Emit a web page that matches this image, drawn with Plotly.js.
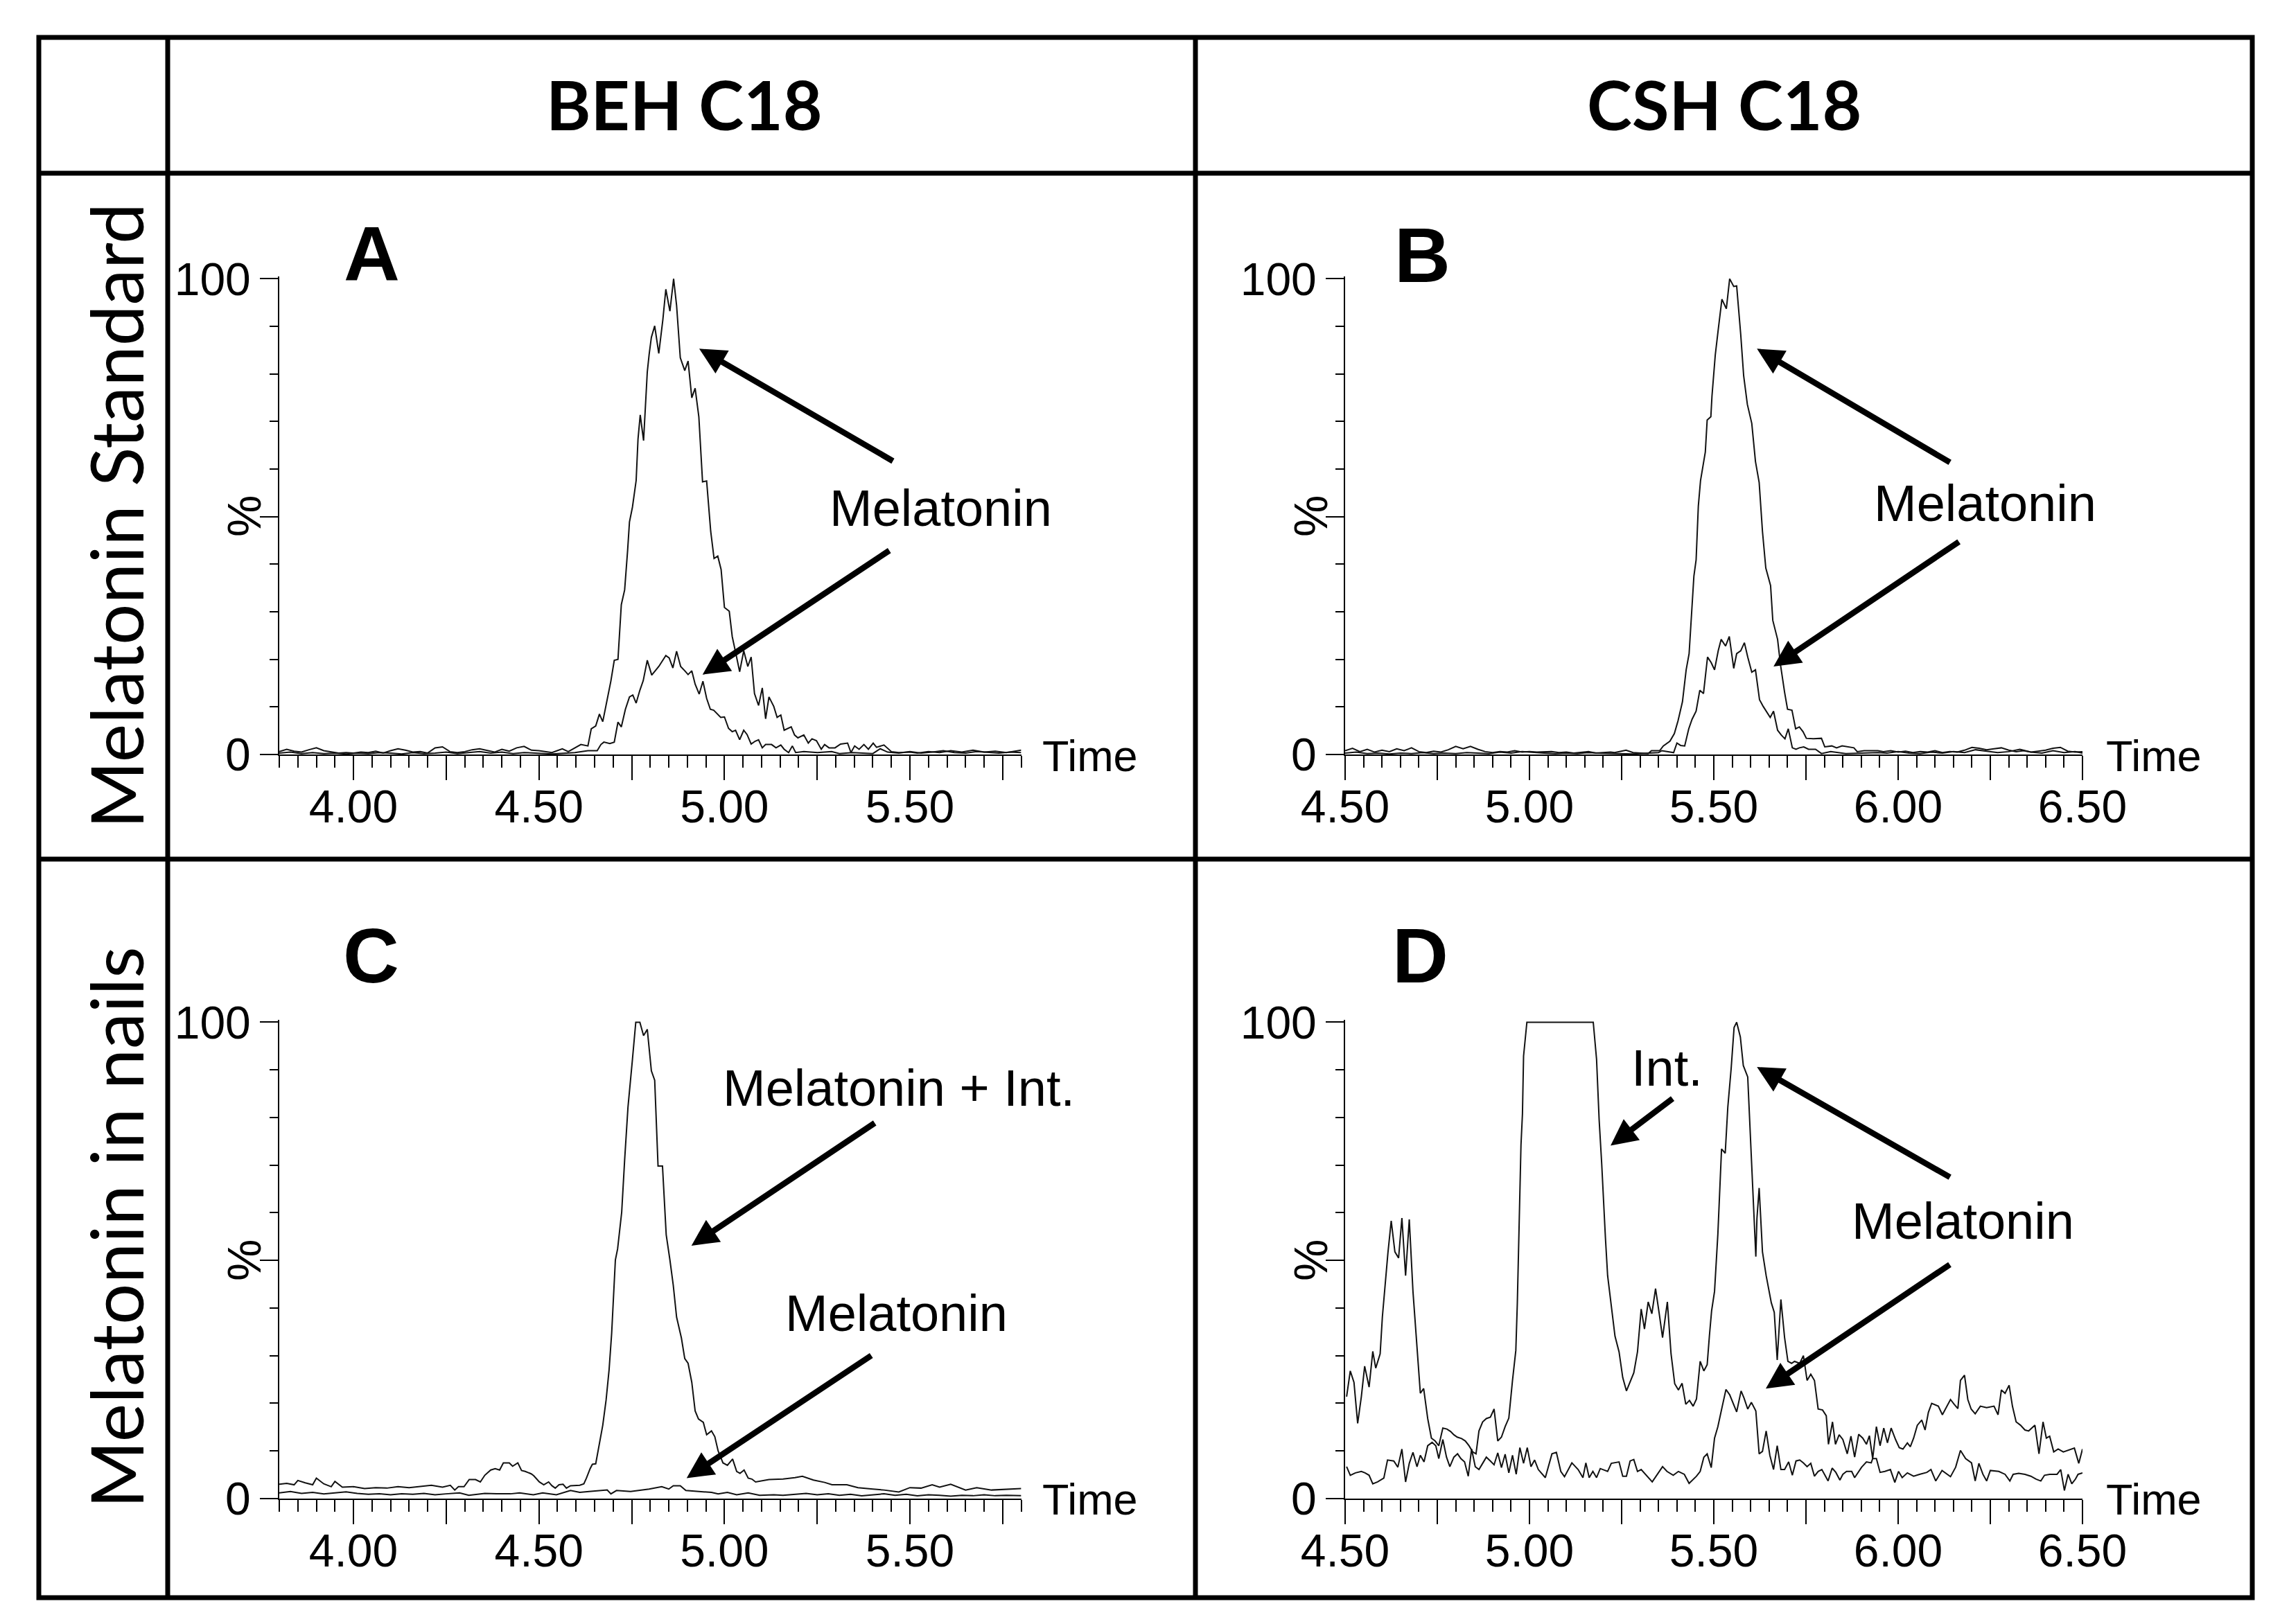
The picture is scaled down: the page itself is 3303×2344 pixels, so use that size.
<!DOCTYPE html>
<html><head><meta charset="utf-8">
<script src="https://cdn.plot.ly/plotly-3.0.1.min.js"></script>
<style>html,body{margin:0;padding:0;background:#fff;}#chart{width:3303px;height:2344px;}</style>
</head><body><div id="chart"></div>
<script>
// ===== DATA (retention time [min], relative intensity [%]) =====
const A_upper = [[3.80,0.6],[3.82,1.1],[3.84,0.7],[3.86,0.5],[3.88,1.0],[3.90,1.4],[3.92,0.8],[3.94,0.6],[3.96,0.3],[3.98,0.4],[4.00,0.3],[4.02,0.5],[4.04,0.4],[4.06,0.7],[4.08,0.3],[4.10,0.8],[4.12,1.2],[4.14,0.9],[4.16,0.5],[4.18,0.6],[4.20,0.3],[4.22,1.4],[4.24,1.6],[4.26,0.6],[4.28,0.4],[4.30,0.6],[4.32,1.0],[4.34,1.2],[4.36,0.8],[4.38,0.5],[4.40,1.1],[4.42,0.7],[4.44,1.4],[4.46,1.7],[4.48,0.9],[4.50,0.8],[4.535,0.4],[4.563,1.2],[4.579,0.6],[4.597,1.4],[4.613,2.1],[4.632,1.8],[4.641,5.4],[4.653,6.0],[4.663,8.5],[4.672,6.9],[4.694,15.5],[4.703,19.8],[4.713,20.0],[4.722,31.5],[4.731,34.6],[4.739,42.9],[4.744,48.9],[4.752,52.0],[4.762,57.6],[4.767,66.3],[4.773,71.4],[4.782,66.0],[4.792,80.4],[4.797,84.1],[4.803,87.7],[4.812,90.1],[4.823,84.3],[4.834,91.4],[4.842,97.8],[4.853,93.2],[4.863,100],[4.871,94.4],[4.881,83.4],[4.893,80.7],[4.902,82.7],[4.912,75.0],[4.921,77.0],[4.931,71.0],[4.941,57.3],[4.952,57.5],[4.963,46.9],[4.972,41.2],[4.982,41.7],[4.991,38.9],[5.000,30.9],[5.013,30.1],[5.021,24.8],[5.030,21.5],[5.041,17.4],[5.052,21.8],[5.063,18.5],[5.072,20.5],[5.081,12.8],[5.092,10.3],[5.102,14.0],[5.111,7.5],[5.120,12.1],[5.133,10.1],[5.142,7.8],[5.152,8.3],[5.161,5.1],[5.180,5.8],[5.189,4.1],[5.198,3.5],[5.214,4.1],[5.226,2.4],[5.236,3.3],[5.248,2.9],[5.261,1.1],[5.270,2.1],[5.282,1.4],[5.298,1.4],[5.313,2.2],[5.332,2.4],[5.341,0.4],[5.351,1.8],[5.363,1.1],[5.376,2.1],[5.388,1.1],[5.401,2.4],[5.41,1.5],[5.43,2.0],[5.45,0.6],[5.47,0.4],[5.50,0.5],[5.52,0.3],[5.55,0.6],[5.58,0.4],[5.61,0.8],[5.64,0.5],[5.67,0.9],[5.70,0.5],[5.73,0.7],[5.76,0.4],[5.78,0.6],[5.80,0.9]];
const A_lower = [[3.80,0.3],[3.83,0.5],[3.86,0.2],[3.89,0.4],[3.92,0.2],[3.95,0.3],[3.98,0.1],[4.01,0.3],[4.04,0.2],[4.07,0.4],[4.10,0.3],[4.13,0.1],[4.16,0.4],[4.19,0.2],[4.22,0.3],[4.25,0.5],[4.28,0.2],[4.31,0.4],[4.34,0.6],[4.37,0.3],[4.40,0.5],[4.43,0.2],[4.46,0.4],[4.49,0.3],[4.535,0.1],[4.597,0.4],[4.632,0.8],[4.657,0.8],[4.667,2.1],[4.675,2.6],[4.691,2.3],[4.703,2.6],[4.713,6.8],[4.722,5.8],[4.733,9.5],[4.744,12.1],[4.753,12.5],[4.762,10.8],[4.772,13.5],[4.781,15.5],[4.792,19.8],[4.804,16.7],[4.823,18.5],[4.832,19.6],[4.842,20.8],[4.851,20.3],[4.861,18.2],[4.871,21.7],[4.882,18.5],[4.893,17.6],[4.902,16.8],[4.912,17.6],[4.921,14.8],[4.932,12.7],[4.942,15.4],[4.952,11.8],[4.962,9.5],[4.971,9.3],[4.990,7.8],[5.000,7.9],[5.011,5.5],[5.021,4.8],[5.030,5.1],[5.041,3.1],[5.052,5.1],[5.061,4.2],[5.072,2.2],[5.083,2.8],[5.092,3.1],[5.102,1.4],[5.111,2.1],[5.127,2.1],[5.139,1.4],[5.152,2.0],[5.161,1.1],[5.173,0.4],[5.183,1.8],[5.192,0.4],[5.214,0.6],[5.251,0.4],[5.289,0.6],[5.31,0.2],[5.345,0.4],[5.40,0.2],[5.42,1.2],[5.44,0.5],[5.47,0.3],[5.50,0.6],[5.53,0.3],[5.56,0.5],[5.59,0.8],[5.62,0.4],[5.65,0.3],[5.68,0.6],[5.71,0.4],[5.74,0.3],[5.77,0.5],[5.80,0.4]];
const B_upper = [[4.50,0.8],[4.52,1.3],[4.54,0.6],[4.56,1.1],[4.58,0.5],[4.60,0.9],[4.62,0.6],[4.64,1.2],[4.66,0.8],[4.68,1.4],[4.70,0.6],[4.72,0.4],[4.74,0.7],[4.76,0.5],[4.78,1.0],[4.80,1.7],[4.82,1.2],[4.84,1.7],[4.86,1.1],[4.88,0.6],[4.90,0.4],[4.92,0.6],[4.94,0.5],[4.96,0.8],[4.98,0.5],[5.00,0.6],[5.02,0.5],[5.04,0.5],[5.06,0.6],[5.08,0.4],[5.10,0.5],[5.12,0.3],[5.14,0.4],[5.16,0.6],[5.18,0.3],[5.20,0.4],[5.22,0.5],[5.231,0.4],[5.262,0.9],[5.281,0.4],[5.322,0.2],[5.331,0.8],[5.353,0.8],[5.363,1.8],[5.381,2.8],[5.393,4.4],[5.403,7.1],[5.415,11.1],[5.425,17.8],[5.433,21.2],[5.440,29.5],[5.446,37.5],[5.452,40.9],[5.455,48.2],[5.458,52.2],[5.464,57.6],[5.472,61.6],[5.477,63.6],[5.482,70.3],[5.492,71.0],[5.495,75.3],[5.504,84.0],[5.512,89.3],[5.522,95.7],[5.534,93.7],[5.543,100],[5.554,98.4],[5.562,98.5],[5.573,88.3],[5.581,79.6],[5.591,73.6],[5.603,69.6],[5.613,61.6],[5.623,57.2],[5.632,46.9],[5.641,39.2],[5.654,35.5],[5.660,28.2],[5.673,24.2],[5.681,18.8],[5.692,13.1],[5.700,9.5],[5.712,9.3],[5.722,5.4],[5.732,5.8],[5.742,4.8],[5.751,3.4],[5.770,3.3],[5.792,3.4],[5.801,1.6],[5.820,1.8],[5.833,1.4],[5.848,1.8],[5.880,1.4],[5.889,0.6],[5.908,0.8],[5.945,0.8],[5.96,0.6],[5.98,0.8],[6.00,0.5],[6.02,0.7],[6.04,0.4],[6.06,0.6],[6.08,0.5],[6.10,0.8],[6.12,0.4],[6.14,0.6],[6.16,0.5],[6.18,0.9],[6.20,1.5],[6.22,1.3],[6.24,1.0],[6.26,1.2],[6.28,1.4],[6.30,0.9],[6.32,0.6],[6.34,0.8],[6.36,0.5],[6.38,0.7],[6.40,0.9],[6.42,1.3],[6.44,1.5],[6.46,0.7],[6.48,0.5],[6.50,0.6]];
const B_lower = [[4.50,0.3],[4.53,0.5],[4.56,0.2],[4.59,0.3],[4.62,0.1],[4.65,0.3],[4.68,0.2],[4.71,0.4],[4.74,0.2],[4.77,0.3],[4.80,0.2],[4.83,0.4],[4.86,0.3],[4.89,0.2],[4.92,0.5],[4.95,0.3],[4.98,0.6],[5.01,0.4],[5.04,0.3],[5.07,0.2],[5.10,0.3],[5.13,0.2],[5.16,0.4],[5.19,0.3],[5.22,0.2],[5.28,0.1],[5.35,0.4],[5.359,0.8],[5.391,0.4],[5.400,2.4],[5.410,1.9],[5.421,1.8],[5.432,5.4],[5.441,7.4],[5.452,9.1],[5.462,13.5],[5.472,12.8],[5.483,20.5],[5.493,19.3],[5.502,17.8],[5.512,21.8],[5.520,24.2],[5.532,22.8],[5.542,24.8],[5.554,18.1],[5.562,21.2],[5.573,21.8],[5.583,23.5],[5.592,20.5],[5.603,17.3],[5.613,17.8],[5.624,11.5],[5.634,10.1],[5.645,8.8],[5.653,7.8],[5.662,9.1],[5.673,5.1],[5.683,4.1],[5.693,3.3],[5.702,5.4],[5.713,1.4],[5.723,1.1],[5.732,1.4],[5.744,1.6],[5.757,1.1],[5.776,1.1],[5.792,0.2],[5.817,0.6],[5.858,0.2],[5.945,0.4],[5.97,0.3],[6.00,0.6],[6.03,0.3],[6.06,0.2],[6.09,0.5],[6.12,0.3],[6.15,0.6],[6.18,0.4],[6.21,1.0],[6.24,0.7],[6.27,0.4],[6.30,0.6],[6.33,1.1],[6.36,0.5],[6.39,0.3],[6.42,0.8],[6.45,0.4],[6.48,0.6],[6.50,0.3]];
const C_upper = [[3.80,3.0],[3.82,3.2],[3.84,2.9],[3.85,3.8],[3.87,3.3],[3.89,2.9],[3.90,4.3],[3.92,3.1],[3.94,2.5],[3.95,3.6],[3.97,2.4],[4.00,2.5],[4.03,2.1],[4.06,2.3],[4.09,2.2],[4.12,2.5],[4.15,2.3],[4.18,2.5],[4.21,2.8],[4.24,2.4],[4.261,2.8],[4.273,1.8],[4.283,2.5],[4.298,2.5],[4.312,4.0],[4.329,4.0],[4.342,3.5],[4.354,4.9],[4.370,6.0],[4.382,6.3],[4.394,6.0],[4.404,7.5],[4.420,7.5],[4.429,6.8],[4.443,7.5],[4.453,5.9],[4.463,5.7],[4.479,5.2],[4.486,4.8],[4.501,3.5],[4.513,2.9],[4.526,3.5],[4.535,2.7],[4.544,2.2],[4.554,2.9],[4.565,3.0],[4.574,2.2],[4.585,2.7],[4.597,2.7],[4.610,2.8],[4.621,3.1],[4.628,4.3],[4.638,6.3],[4.644,7.2],[4.653,7.3],[4.663,11.7],[4.672,15.4],[4.681,20.7],[4.689,27.0],[4.696,34.7],[4.701,42.1],[4.706,50.1],[4.712,52.4],[4.723,60.1],[4.731,71.1],[4.740,82.2],[4.752,92.2],[4.761,100],[4.772,100],[4.782,97.2],[4.792,98.5],[4.803,89.8],[4.812,87.8],[4.821,69.8],[4.833,69.8],[4.843,55.4],[4.853,50.1],[4.862,44.8],[4.871,38.1],[4.884,33.7],[4.893,29.4],[4.902,28.4],[4.912,24.4],[4.921,18.4],[4.930,16.7],[4.943,16.0],[4.952,13.4],[4.965,14.2],[4.974,13.0],[4.983,10.0],[4.996,7.5],[5.008,7.0],[5.022,8.3],[5.033,5.7],[5.042,5.3],[5.053,6.0],[5.064,4.3],[5.074,4.1],[5.084,3.5],[5.098,3.7],[5.120,4.0],[5.158,4.1],[5.19,4.4],[5.21,4.7],[5.24,3.9],[5.27,3.4],[5.29,2.9],[5.33,2.9],[5.36,2.3],[5.40,2.0],[5.43,1.8],[5.47,1.4],[5.50,2.3],[5.53,2.2],[5.56,2.9],[5.58,2.4],[5.61,3.0],[5.65,1.8],[5.68,2.3],[5.72,1.8],[5.76,2.0],[5.80,2.1]];
const C_lower = [[3.80,1.2],[3.83,1.5],[3.86,1.1],[3.89,1.3],[3.92,1.0],[3.95,1.2],[3.98,1.4],[4.01,1.1],[4.04,0.9],[4.07,1.0],[4.10,0.8],[4.13,1.0],[4.16,0.9],[4.19,1.1],[4.22,0.8],[4.25,1.0],[4.286,1.2],[4.311,0.7],[4.354,1.1],[4.386,1.0],[4.423,1.0],[4.448,1.2],[4.485,0.8],[4.510,1.2],[4.547,0.8],[4.585,1.7],[4.610,1.3],[4.635,1.5],[4.660,1.7],[4.684,1.8],[4.694,1.0],[4.709,1.7],[4.747,1.5],[4.772,1.7],[4.797,2.0],[4.831,2.5],[4.850,2.0],[4.862,2.7],[4.881,2.7],[4.896,1.7],[4.934,1.5],[4.965,1.3],[4.983,1.0],[5.008,1.3],[5.033,0.8],[5.064,1.2],[5.095,0.7],[5.133,0.8],[5.158,0.7],[5.19,0.9],[5.22,1.1],[5.25,0.8],[5.28,1.0],[5.31,0.7],[5.34,0.9],[5.37,0.6],[5.40,0.8],[5.43,1.0],[5.46,0.7],[5.49,0.9],[5.52,0.6],[5.55,0.8],[5.58,0.7],[5.61,0.5],[5.64,0.7],[5.67,0.6],[5.70,0.8],[5.73,0.6],[5.76,0.7],[5.80,0.6]];
const D_upper = [[4.504,21.4],[4.514,26.8],[4.524,24.4],[4.534,15.8],[4.544,21.4],[4.553,27.8],[4.565,23.4],[4.575,30.9],[4.583,27.4],[4.595,30.4],[4.601,38.1],[4.609,45.8],[4.616,51.5],[4.625,58.3],[4.635,51.8],[4.645,50.5],[4.654,58.9],[4.664,46.8],[4.674,58.6],[4.684,43.5],[4.694,32.1],[4.704,22.1],[4.713,23.1],[4.724,16.8],[4.734,12.7],[4.744,12.1],[4.754,11.1],[4.765,14.8],[4.776,14.6],[4.786,14.1],[4.795,13.4],[4.804,12.9],[4.816,12.6],[4.826,12.1],[4.836,11.1],[4.846,9.8],[4.855,9.4],[4.863,14.2],[4.873,16.1],[4.883,16.8],[4.894,17.1],[4.904,18.8],[4.914,12.1],[4.924,12.9],[4.934,15.1],[4.944,16.9],[4.954,24.8],[4.963,31.1],[4.967,40.8],[4.971,55.5],[4.974,62.8],[4.977,74.2],[4.981,80.8],[4.984,92.9],[4.993,100],[5.173,100],[5.182,92.2],[5.189,79.5],[5.196,70.2],[5.201,61.5],[5.206,54.8],[5.212,46.8],[5.222,40.8],[5.232,34.1],[5.243,30.8],[5.253,25.4],[5.263,22.6],[5.273,24.4],[5.283,26.4],[5.293,30.8],[5.303,39.8],[5.312,35.6],[5.322,41.3],[5.332,38.8],[5.342,44.1],[5.352,38.8],[5.361,33.8],[5.374,41.3],[5.384,30.4],[5.394,24.1],[5.404,22.8],[5.414,24.2],[5.424,19.8],[5.434,20.6],[5.444,19.4],[5.453,20.9],[5.463,28.8],[5.473,26.8],[5.482,28.1],[5.488,34.1],[5.494,39.4],[5.502,43.5],[5.511,55.5],[5.521,73.4],[5.531,72.5],[5.538,82.2],[5.547,90.2],[5.555,98.9],[5.562,100],[5.572,96.9],[5.580,90.9],[5.592,88.5],[5.598,77.5],[5.607,62.1],[5.614,50.8],[5.617,58.8],[5.623,65.2],[5.632,51.8],[5.642,46.8],[5.656,41.1],[5.664,39.1],[5.672,29.1],[5.682,41.8],[5.692,33.8],[5.701,28.8],[5.711,28.4],[5.719,28.8],[5.733,28.4],[5.743,30.0],[5.753,24.8],[5.763,26.1],[5.773,24.8],[5.783,18.8],[5.795,18.6],[5.805,17.4],[5.811,11.4],[5.822,16.1],[5.830,11.4],[5.840,13.4],[5.850,12.4],[5.862,9.4],[5.872,13.1],[5.882,8.7],[5.893,13.5],[5.904,12.7],[5.914,11.4],[5.922,13.2],[5.931,8.4],[5.941,15.1],[5.951,11.1],[5.961,14.8],[5.971,11.7],[5.981,14.8],[5.993,12.4],[6.003,10.7],[6.013,10.4],[6.025,11.7],[6.033,10.9],[6.042,12.7],[6.052,15.4],[6.064,16.5],[6.073,14.4],[6.082,18.1],[6.091,20.0],[6.109,19.4],[6.120,17.6],[6.131,19.1],[6.142,20.8],[6.152,19.8],[6.162,18.9],[6.169,24.8],[6.180,25.9],[6.189,20.8],[6.198,18.8],[6.209,17.8],[6.223,19.4],[6.240,19.1],[6.260,19.4],[6.271,17.6],[6.280,22.8],[6.290,22.1],[6.301,23.8],[6.310,19.4],[6.320,16.1],[6.332,15.4],[6.344,14.4],[6.354,14.2],[6.371,15.4],[6.382,9.4],[6.393,16.1],[6.402,12.7],[6.411,13.1],[6.422,9.8],[6.434,10.4],[6.448,9.8],[6.461,10.1],[6.478,10.6],[6.490,7.4],[6.50,10.4]];
const D_lower = [[4.504,6.7],[4.514,4.9],[4.528,5.4],[4.544,5.7],[4.554,5.4],[4.565,4.9],[4.575,3.1],[4.588,3.5],[4.605,4.3],[4.615,8.1],[4.632,7.9],[4.643,6.6],[4.654,10.4],[4.664,3.5],[4.674,7.4],[4.684,9.7],[4.695,6.7],[4.704,9.1],[4.714,7.7],[4.724,11.1],[4.736,11.8],[4.746,11.1],[4.754,8.4],[4.765,12.4],[4.775,8.7],[4.784,6.7],[4.795,8.7],[4.805,9.4],[4.814,8.4],[4.824,7.7],[4.834,4.7],[4.843,10.4],[4.853,6.7],[4.863,6.1],[4.873,7.4],[4.883,8.7],[4.894,7.9],[4.904,7.1],[4.914,9.6],[4.924,6.5],[4.934,9.3],[4.944,5.4],[4.954,9.1],[4.964,5.1],[4.974,10.7],[4.984,7.4],[4.994,10.7],[5.004,6.7],[5.014,8.1],[5.024,6.1],[5.043,4.4],[5.061,9.4],[5.073,9.7],[5.085,5.7],[5.095,4.6],[5.115,7.5],[5.132,6.1],[5.145,4.4],[5.153,7.5],[5.162,4.4],[5.172,5.7],[5.182,4.4],[5.192,6.3],[5.212,5.7],[5.222,7.4],[5.243,7.7],[5.253,4.7],[5.263,4.7],[5.273,7.9],[5.283,8.2],[5.293,5.7],[5.303,6.1],[5.333,3.5],[5.361,6.7],[5.373,5.7],[5.390,4.9],[5.404,5.7],[5.420,5.1],[5.433,3.2],[5.453,4.7],[5.463,5.7],[5.473,8.7],[5.482,9.4],[5.493,6.5],[5.502,12.7],[5.511,15.1],[5.523,19.4],[5.533,22.9],[5.543,21.8],[5.562,18.2],[5.574,22.6],[5.582,21.1],[5.592,18.8],[5.602,20.2],[5.614,18.4],[5.623,9.4],[5.632,9.9],[5.642,14.2],[5.652,9.1],[5.662,6.1],[5.672,11.1],[5.682,6.1],[5.692,6.1],[5.703,7.7],[5.713,4.9],[5.723,7.9],[5.733,8.1],[5.743,7.5],[5.753,6.7],[5.763,7.4],[5.773,4.7],[5.783,5.7],[5.793,6.1],[5.810,3.7],[5.821,6.4],[5.831,5.5],[5.842,3.9],[5.850,5.1],[5.860,5.7],[5.874,5.7],[5.882,4.4],[5.901,6.6],[5.914,7.7],[5.927,7.5],[5.931,8.4],[5.941,8.4],[5.951,5.5],[5.964,5.7],[5.979,6.1],[5.991,3.4],[6.001,5.7],[6.011,4.4],[6.025,5.4],[6.042,4.7],[6.058,5.1],[6.078,5.5],[6.089,6.1],[6.102,3.7],[6.119,5.9],[6.142,4.6],[6.156,6.6],[6.169,10.1],[6.183,8.4],[6.199,7.5],[6.209,3.7],[6.219,7.4],[6.230,5.1],[6.240,3.7],[6.250,5.9],[6.273,5.7],[6.290,5.1],[6.303,3.7],[6.312,5.1],[6.327,5.3],[6.344,5.1],[6.360,4.7],[6.374,4.1],[6.387,3.7],[6.397,4.9],[6.411,5.1],[6.431,5.1],[6.441,6.1],[6.451,1.7],[6.461,5.1],[6.471,3.1],[6.481,4.1],[6.488,5.1],[6.50,5.4]];

const columnTitles = ['BEH C18', 'CSH C18'];
const rowTitles = ['Melatonin Standard', 'Melatonin in nails'];
const panelLetters = ['A', 'B', 'C', 'D'];
const ticksBEH = [4.00, 4.25, 4.50, 4.75, 5.00, 5.25, 5.50, 5.75];
const tickTextBEH = ['4.00', '', '4.50', '', '5.00', '', '5.50', ''];
const ticksCSH = [4.50, 4.75, 5.00, 5.25, 5.50, 5.75, 6.00, 6.25, 6.50];
const tickTextCSH = ['4.50', '', '5.00', '', '5.50', '', '6.00', '', '6.50'];
const yTickVals = [0, 50, 100];
const yTickText = ['0', '', '100'];

// ===== LAYOUT =====
const W = 3303, H = 2344;
const PX = x => x / W, PY = y => 1 - y / H;
const NARROW = '"Liberation Sans Narrow", "Arial Narrow", "Liberation Sans", Arial, sans-serif';
const ARIAL = '"Liberation Sans", Arial, sans-serif';
const CAL = 'Lato, "Noto Sans", sans-serif';
const INK = '#000';

function yDom(y0, y100) { const per = (y0 - y100) / 100; return [PY(y0), PY(y0 - 100.5 * per)]; }

function xAxis(dom, range, tv, tt, anchor) {
  return {
    domain: dom, range: range, anchor: anchor, showline: true, linecolor: INK, linewidth: 2,
    showgrid: false, zeroline: false, tickmode: 'array', tickvals: tv, ticktext: tt,
    ticks: 'outside', ticklen: 35, tickwidth: 2, tickcolor: INK, ticklabelstandoff: -18,
    minor: { tickmode: 'linear', tick0: range[0], dtick: 0.05, ticks: 'outside', ticklen: 17, tickwidth: 2, tickcolor: INK, showgrid: false },
    tickfont: { family: NARROW, size: 66, color: INK }, fixedrange: true
  };
}
function yAxis(dom, anchor) {
  return {
    domain: dom, range: [0, 100.5], anchor: anchor, showline: true, linecolor: INK, linewidth: 2,
    showgrid: false, zeroline: false, tickmode: 'array', tickvals: yTickVals, ticktext: yTickText,
    ticks: 'outside', ticklen: 26, tickwidth: 2, tickcolor: INK,
    minor: { tickmode: 'linear', tick0: 0, dtick: 10, ticks: 'outside', ticklen: 12, tickwidth: 2, tickcolor: INK, showgrid: false },
    tickfont: { family: NARROW, size: 66, color: INK }, fixedrange: true
  };
}

const domL = [PX(403), PX(1473.6)], domR = [PX(1941), PX(3005)];
const domTop = yDom(1089, 402.4), domBot = yDom(2163, 1475.4);

function tr(pairs, xa, ya) {
  return { type: 'scatter', mode: 'lines', x: pairs.map(p => p[0]), y: pairs.map(p => p[1]),
    xaxis: xa, yaxis: ya, line: { color: '#111', width: 2 }, hoverinfo: 'skip' };
}
const data = [
  tr(A_upper, 'x', 'y'), tr(A_lower, 'x', 'y'),
  tr(B_upper, 'x2', 'y2'), tr(B_lower, 'x2', 'y2'),
  tr(C_upper, 'x3', 'y3'), tr(C_lower, 'x3', 'y3'),
  tr(D_upper, 'x4', 'y4'), tr(D_lower, 'x4', 'y4')
];

function txt(text, x, y, font, extra) {
  return Object.assign({ xref: 'paper', yref: 'paper', x: PX(x), y: PY(y), text: text, showarrow: false,
    xanchor: 'center', yanchor: 'middle', font: font }, extra || {});
}
const fHead = { family: CAL, size: 98, color: INK, weight: 700 };
const fRow = { family: CAL, size: 105, color: INK };
const fLet = { family: ARIAL, size: 112, color: INK, weight: 700 };
const fPct = { family: NARROW, size: 68, color: INK };
const fTime = { family: NARROW, size: 63, color: INK };
const fLab = { family: ARIAL, size: 74, color: INK };

const annotations = [
  txt(columnTitles[0], 987, 150, fHead), txt(columnTitles[1], 2488, 150, fHead),
  txt(rowTitles[0], 166, 745, fRow, { textangle: -90 }), txt(rowTitles[1], 166, 1772, fRow, { textangle: -90 }),
  txt(panelLetters[0], 536, 366, fLet), txt(panelLetters[1], 2052, 368, fLet),
  txt(panelLetters[2], 535, 1379, fLet), txt(panelLetters[3], 2049, 1379, fLet),
  txt('%', 352, 745, fPct, { textangle: -90 }), txt('%', 1891, 745, fPct, { textangle: -90 }),
  txt('%', 352, 1819, fPct, { textangle: -90 }), txt('%', 1891, 1819, fPct, { textangle: -90 }),
  txt('Time', 1573, 1091, fTime), txt('Time', 3108, 1091, fTime),
  txt('Time', 1573, 2164, fTime), txt('Time', 3108, 2164, fTime),
  txt('Melatonin', 1357, 733, fLab), txt('Melatonin', 2864, 727, fLab),
  txt('Melatonin + Int.', 1297, 1570, fLab), txt('Melatonin', 1293, 1895, fLab),
  txt('Int.', 2405, 1541, fLab), txt('Melatonin', 2832, 1762, fLab)
];
function arrow(xa, ya, x, y, ax, ay) {
  return { xref: xa, yref: ya, x: x, y: y, ax: ax, ay: ay, axref: 'pixel', ayref: 'pixel', text: '',
    showarrow: true, arrowhead: 2, arrowsize: 0.9, arrowwidth: 8.5, arrowcolor: INK, font: { size: 1 } };
}
annotations.push(
  arrow('x', 'y', 4.932, 85.3, 281, 163), arrow('x', 'y', 4.941, 16.8, 271, -180),
  arrow('x2', 'y2', 5.617, 85.3, 280, 165), arrow('x2', 'y2', 5.662, 18.5, 269, -181),
  arrow('x3', 'y3', 4.911, 53.1, 266, -178), arrow('x3', 'y3', 4.898, 4.3, 268, -178),
  arrow('x4', 'y4', 5.220, 74.1, 91, -69), arrow('x4', 'y4', 5.617, 90.6, 280, 160),
  arrow('x4', 'y4', 5.641, 23.1, 267, -180)
);

function line(x0, y0, x1, y1) {
  return { type: 'line', xref: 'paper', yref: 'paper', x0: PX(x0), y0: PY(y0), x1: PX(x1), y1: PY(y1),
    line: { color: INK, width: 7 } };
}
const shapes = [
  { type: 'rect', xref: 'paper', yref: 'paper', x0: PX(56), y0: PY(2306), x1: PX(3250), y1: PY(54), line: { color: INK, width: 7 } },
  line(242, 54, 242, 2306), line(1725, 54, 1725, 2306),
  line(56, 250, 3250, 250), line(56, 1240, 3250, 1240)
];

const layout = {
  width: W, height: H, margin: { l: 0, r: 0, t: 0, b: 0 }, autosize: false,
  paper_bgcolor: '#fff', plot_bgcolor: 'rgba(0,0,0,0)', showlegend: false,
  xaxis: xAxis(domL, [3.8, 5.8], ticksBEH, tickTextBEH, 'y'), yaxis: yAxis(domTop, 'x'),
  xaxis2: xAxis(domR, [4.5, 6.5], ticksCSH, tickTextCSH, 'y2'), yaxis2: yAxis(domTop, 'x2'),
  xaxis3: xAxis(domL, [3.8, 5.8], ticksBEH, tickTextBEH, 'y3'), yaxis3: yAxis(domBot, 'x3'),
  xaxis4: xAxis(domR, [4.5, 6.5], ticksCSH, tickTextCSH, 'y4'), yaxis4: yAxis(domBot, 'x4'),
  annotations: annotations, shapes: shapes
};
Plotly.newPlot('chart', data, layout, { displayModeBar: false, staticPlot: true });
</script></body></html>
